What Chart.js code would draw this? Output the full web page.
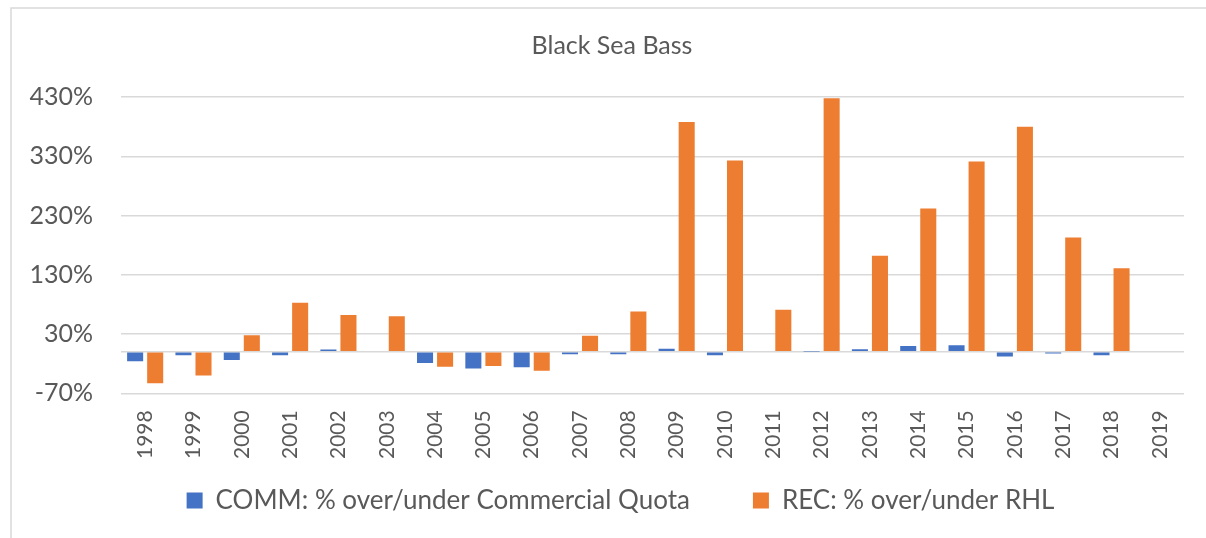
<!DOCTYPE html>
<html>
<head>
<meta charset="utf-8">
<script src="https://cdn.jsdelivr.net/npm/chart.js@4.4.1/dist/chart.umd.min.js"></script>
<style>
  html, body { margin: 0; padding: 0; background: #ffffff; }
  canvas { display: block; }
</style>
</head>
<body>
<canvas id="c" width="1206" height="538"></canvas>
<script>
const years = ['1998','1999','2000','2001','2002','2003','2004','2005','2006','2007','2008','2009','2010','2011','2012','2013','2014','2015','2016','2017','2018','2019'];
const commPct = [-16, -6, -14, -6, 4, -1, -19, -28, -26, -4, -4, 5, -6, null, 0.5, 4.5, 10, 11, -8, -3, -6, null];
const recPct = [-53, -40, 28, 83, 62, 60, -25, -24, -32, 27, 68, 388, 323, 71, 428, 162, 242, 321, 380, 193, 141, null];
const yTicks = [-70, 0, 30, 130, 230, 330, 430];
const commLabel = 'COMM: % over/under Commercial Quota';
const recLabel = 'REC: % over/under RHL';
const titleText = 'Black Sea Bass';

const FONT = 'Lato, "Open Sans", sans-serif';
const TXT = '#595959';
const GRID = '#d9d9d9';

const framePlugin = {
  id: 'frame',
  beforeLayout(chart) {
    const lg = chart.legend;
    if (lg && !lg._patched) {
      const f = lg.fit;
      lg.fit = function () { f.call(this); this.height = 32; };
      lg._patched = true;
    }
  },
  afterLayout(chart) {
    const t = chart.titleBlock;
    if (t) { t.left = 40; }
    const lg = chart.legend;
    if (lg) {
      lg.left = 57;
      lg.right = 1184;
      lg.width = lg.right - lg.left;
      lg.top = 424.5;
      lg.bottom = 538;
      lg.height = lg.bottom - lg.top;
    }
  },
  beforeDraw(chart) {
    const ctx = chart.ctx;
    ctx.save();
    ctx.strokeStyle = GRID;
    ctx.lineWidth = 1.5;
    ctx.beginPath();
    ctx.moveTo(11, 538);
    ctx.lineTo(11, 8);
    ctx.lineTo(1206, 8);
    ctx.stroke();
    ctx.restore();
  }
};

new Chart(document.getElementById('c'), {
  type: 'bar',
  data: {
    labels: years,
    datasets: [
      { label: commLabel, data: commPct, backgroundColor: '#4472C4', borderWidth: 0,
        categoryPercentage: 0.83, barPercentage: 0.8 },
      { label: recLabel, data: recPct, backgroundColor: '#ED7D31', borderWidth: 0,
        categoryPercentage: 0.83, barPercentage: 0.8 }
    ]
  },
  options: {
    responsive: false,
    animation: false,
    layout: { padding: { top: 8, left: 0, right: 22, bottom: 32.7 } },
    plugins: {
      title: {
        display: true, text: titleText, color: TXT,
        font: { family: FONT, size: 25, weight: 'normal' },
        padding: { top: 23, bottom: 36 }
      },
      legend: {
        position: 'bottom',
        labels: {
          color: TXT, font: { family: FONT, size: 26 },
          boxWidth: 16, boxHeight: 16, padding: 63
        }
      },
      tooltip: { enabled: false }
    },
    scales: {
      x: {
        grid: { display: false, drawTicks: false },
        border: { display: false },
        ticks: { color: TXT, font: { family: FONT, size: 21 }, minRotation: 90, maxRotation: 90,
                 autoSkip: false, padding: 17 },
        afterFit(scale) { scale.height = 80; }
      },
      y: {
        min: -70, max: 430,
        afterBuildTicks(scale) { scale.ticks = yTicks.map(v => ({ value: v })); },
        grid: { color: GRID, lineWidth: 1.5, drawTicks: false },
        border: { display: false },
        ticks: { color: TXT, font: { family: FONT, size: 25 }, padding: 28,
                 callback: (v) => v === 0 ? '' : v + '%' },
        afterFit(scale) { scale.width = 121; }
      }
    }
  },
  plugins: [framePlugin]
});
</script>
</body>
</html>
